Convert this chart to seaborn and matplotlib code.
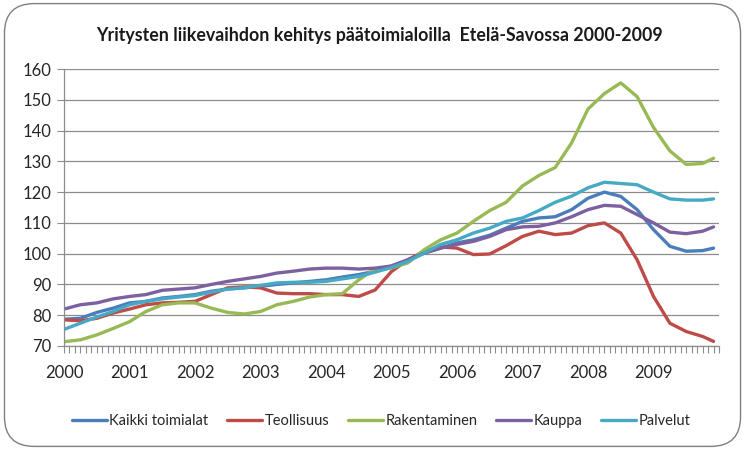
import matplotlib
matplotlib.use("Agg")
import matplotlib.pyplot as plt
from matplotlib.patches import FancyBboxPatch
import numpy as np
import pandas as pd
import seaborn as sns

# quarterly readings, index 2000 = 100 (approx)
quarters = [2000 + i * 0.25 for i in range(40)] + [2009.917]

kaikki = [78.7, 79, 80.9, 82.3, 84, 84.5, 85.6, 86.1, 86.7, 87.8, 88.5, 88.9,
          89.4, 90, 90.5, 91, 91.5, 92.4, 93.2, 94.3, 96, 98, 100.2, 101.8,
          103.5, 104.5, 106, 108.3, 110.5, 111.6, 112, 114.3, 118, 120, 118.6, 114.3,
          107.8, 102.4, 100.8, 101, 101.8]
teollisuus = [78.5, 78.2, 79, 80.7, 82, 83.4, 84, 84.2, 84.5, 86.7, 88.9, 89.2,
              88.9, 87.2, 87, 87, 86.7, 86.7, 86.1, 88.2, 94.2, 98, 100.8, 102.2,
              101.8, 99.7, 99.9, 102.6, 105.6, 107.3, 106.2, 106.7, 109.1, 110, 106.7, 98,
              86.1, 77.4, 74.7, 73.1, 71.5]
rakentaminen = [71.4, 72, 73.6, 75.7, 77.9, 81.2, 83.4, 84, 84, 82.3, 80.9, 80.4,
                81.2, 83.4, 84.5, 85.9, 86.7, 87, 91.5, 95, 95.4, 97, 101.3, 104.5,
                106.7, 110.5, 114, 116.7, 122, 125.4, 128, 136, 147, 152, 155.5, 151,
                141, 133.4, 129, 129.3, 131]
kauppa = [82, 83.4, 84, 85.3, 86.1, 86.7, 88.1, 88.5, 88.9, 90, 91, 91.8,
          92.6, 93.7, 94.3, 95, 95.3, 95.3, 95, 95.3, 96, 98, 100.2, 101.8,
          103, 104, 105.6, 107.8, 108.7, 108.9, 110, 112, 114.3, 115.7, 115.4, 112.7,
          110, 107, 106.5, 107.3, 108.7]
palvelut = [75.4, 77.4, 79.4, 81.2, 83.4, 84.5, 85.3, 85.9, 86.4, 87.5, 88.5, 88.9,
            89.7, 90.5, 90.7, 90.7, 91, 91.8, 92.6, 94, 95.5, 97.5, 100.2, 103,
            104.5, 106.7, 108.3, 110.5, 111.6, 114, 116.7, 118.7, 121.4, 123.2, 122.8, 122.4,
            120, 117.8, 117.4, 117.4, 117.8]

series_names = ["Kaikki toimialat", "Teollisuus", "Rakentaminen", "Kauppa", "Palvelut"]
colors = ["#4A7EBB", "#BE4B48", "#98B954", "#7D60A0", "#46AAC5"]
years = list(range(2000, 2010))

df = pd.DataFrame({"aika": quarters, "Kaikki toimialat": kaikki, "Teollisuus": teollisuus,
                   "Rakentaminen": rakentaminen, "Kauppa": kauppa, "Palvelut": palvelut})
long = df.melt(id_vars="aika", var_name="toimiala", value_name="arvo")

sns.set_style("white")
plt.rcParams["font.family"] = ["Lato", "DejaVu Sans"]

fig = plt.figure(figsize=(7.45, 4.5), dpi=100)
# rounded chart border like excel
fig.patches.append(FancyBboxPatch((0.006, 0.008), 0.988, 0.984, transform=fig.transFigure,
                                  boxstyle="round,pad=0,rounding_size=0.04", mutation_aspect=745 / 450,
                                  fc="none", ec="#7f7f7f", lw=1.0, zorder=-1))

ax = fig.add_axes([64 / 745, 1 - 346 / 450, 655 / 745, 277 / 450])
ax.set_facecolor("none")
sns.lineplot(data=long, x="aika", y="arvo", hue="toimiala", hue_order=series_names,
             palette=colors, linewidth=2.4, ax=ax, legend=True)

ax.set_xlim(2000, 2010)
ax.set_ylim(70, 160)
ax.set_yticks(range(70, 161, 10))
ax.set_xticks(years)
ax.set_xticks(np.arange(2000, 2010.01, 1 / 12), minor=True)
ax.set_xticklabels([str(y) for y in years], fontsize=12)
ax.tick_params(axis="x", which="both", direction="out", length=5, width=0.8,
               color="#8c8c8c", pad=9, bottom=True)
ax.tick_params(axis="y", direction="out", length=5, width=0.8, color="#8c8c8c",
               labelsize=12, pad=4, left=True)
ax.yaxis.grid(True, color="#8c8c8c", lw=0.9)
ax.set_axisbelow(True)
for side in ["top", "right"]:
    ax.spines[side].set_visible(False)
for side in ["left", "bottom"]:
    ax.spines[side].set_color("#8c8c8c")
    ax.spines[side].set_linewidth(0.9)
ax.set_xlabel("")
ax.set_ylabel("")

ax.legend(loc="center", bbox_to_anchor=(381 / 745, 1 - 421 / 450), bbox_transform=fig.transFigure,
          ncol=5, frameon=False, fontsize=10.5, handlelength=2.4, handletextpad=0.15,
          columnspacing=1.3)

fig.text(379 / 745, 1 - 36 / 450, "Yritysten liikevaihdon kehitys päätoimialoilla  Etelä-Savossa 2000-2009",
         ha="center", va="center", fontsize=12.8, fontweight="bold", color="#1a1a1a")

fig.savefig("out.png", dpi=100)
